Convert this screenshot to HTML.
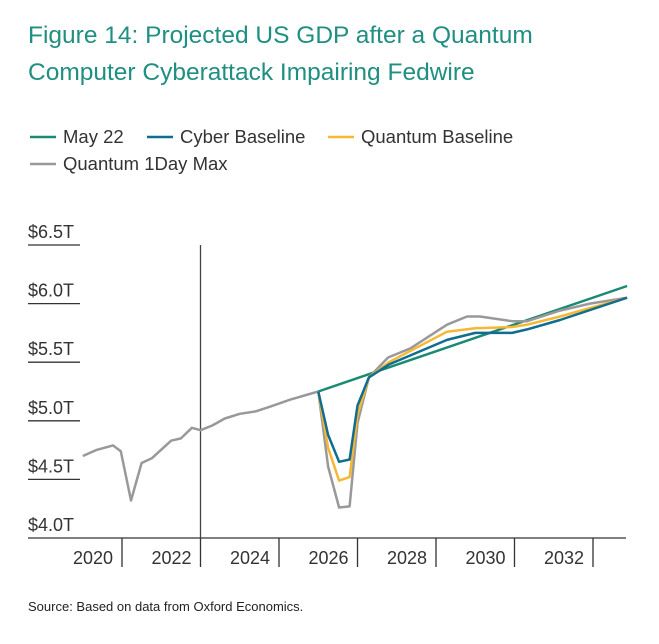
<!DOCTYPE html>
<html><head><meta charset="utf-8">
<style>
html,body{margin:0;padding:0;background:#fff;}
svg{display:block;font-family:"Liberation Sans",Arial,sans-serif;}
</style></head>
<body>
<svg id="chart" width="659" height="644" viewBox="0 0 659 644">
<text x="28" y="43" font-size="24.5" fill="#1f8f82">Figure 14: Projected US GDP after a Quantum</text>
<text x="28" y="80" font-size="24.5" fill="#1f8f82">Computer Cyberattack Impairing Fedwire</text>
<g font-size="18.5" fill="#333">
 <g><line x1="30" y1="137" x2="56" y2="137" stroke="#1a8a74" stroke-width="2.5"/><text x="63" y="143">May 22</text></g>
 <g><line x1="147" y1="137" x2="173" y2="137" stroke="#0f6e8f" stroke-width="2.5"/><text x="180" y="143">Cyber Baseline</text></g>
 <g><line x1="328" y1="137" x2="354" y2="137" stroke="#f7b733" stroke-width="2.5"/><text x="361" y="143">Quantum Baseline</text></g>
 <g><line x1="30" y1="164" x2="56" y2="164" stroke="#999" stroke-width="2.5"/><text x="63" y="170">Quantum 1Day Max</text></g>
</g>
<g id="axes"></g>
<g id="series"></g>
<text x="28" y="611" font-size="13" fill="#222">Source: Based on data from Oxford Economics.</text>
</svg>
<script>
const yTicks = [4.0, 4.5, 5.0, 5.5, 6.0, 6.5];
const yTickLabels = ["$4.0T", "$4.5T", "$5.0T", "$5.5T", "$6.0T", "$6.5T"];
const xTickYears = [2021, 2023, 2025, 2027, 2029, 2031, 2033];
const xLabels = ["2020", "2022", "2024", "2026", "2028", "2030", "2032"];
const histYears = [2020.0,2020.34,2020.77,2020.97,2021.23,2021.5,2021.76,2022.25,2022.5,2022.78,2023.0,2023.3,2023.62,2024.0,2024.4,2024.77,2025.28,2026.0];
const histValues = [4.70,4.75,4.79,4.74,4.32,4.64,4.68,4.83,4.85,4.94,4.92,4.96,5.02,5.06,5.08,5.12,5.18,5.25];
const may22Years = [2026.0, 2033.87];
const may22Values = [5.25, 6.15];
const cyberYears = [2026.0,2026.25,2026.53,2026.8,2027.0,2027.29,2027.8,2029.28,2030.0,2030.94,2031.32,2032.16,2033.87];
const cyberValues = [5.25,4.88,4.65,4.67,5.13,5.37,5.48,5.69,5.75,5.75,5.78,5.86,6.05];
const quantumYears = [2026.0,2026.25,2026.53,2026.8,2027.0,2027.29,2027.8,2029.28,2030.0,2030.94,2031.32,2032.16,2033.87];
const quantumValues = [5.25,4.77,4.49,4.52,5.05,5.37,5.50,5.76,5.79,5.80,5.82,5.89,6.05];
const maxYears = [2026.0,2026.25,2026.53,2026.8,2027.0,2027.29,2027.78,2028.36,2029.28,2029.79,2030.12,2030.94,2031.32,2032.16,2032.92,2033.87];
const maxValues = [5.25,4.61,4.26,4.27,4.98,5.37,5.54,5.62,5.82,5.89,5.89,5.85,5.85,5.94,6.00,6.05];

const NS = "http://www.w3.org/2000/svg";
const xS = yr => 122 + (yr - 2021) * 39.25;
const yS = v => 538 - (v - 4.0) * 117.2;
function mk(tag, attrs, parent){const e=document.createElementNS(NS,tag);for(const k in attrs)e.setAttribute(k,attrs[k]);parent.appendChild(e);return e;}
const axes=document.getElementById('axes'), series=document.getElementById('series');

yTicks.forEach((v,i)=>{
  const y=yS(v);
  if(i>0){const l=mk('line',{x1:28,x2:80,y1:y,y2:y,stroke:'#333','stroke-width':1.3},axes);
  
  }
  const t=mk('text',{x:28,y:y-7,'font-size':18,fill:'#333'},axes);
  t.textContent=yTickLabels[i];
  
  
});
const ax=mk('line',{x1:28,x2:626,y1:538,y2:538,stroke:'#333','stroke-width':1.3},axes);


xTickYears.forEach((yr,i)=>{
  const x=xS(yr);
  const tk=mk('line',{x1:x,x2:x,y1:538,y2:567,stroke:'#333','stroke-width':1.3},axes);
  
  
  const t=mk('text',{x:x-29,y:564,'font-size':18,fill:'#333','text-anchor':'middle'},axes);
  t.textContent=xLabels[i];
  
  
});
const vl=mk('line',{x1:xS(2023),x2:xS(2023),y1:245,y2:538,stroke:'#444','stroke-width':1.3},axes);



function line(ys,vs,color,name){
  const d=ys.map((yr,i)=>(i?'L':'M')+xS(yr).toFixed(1)+' '+yS(vs[i]).toFixed(1)).join(' ');
  const p=mk('path',{d:d,fill:'none',stroke:color,'stroke-width':2.5,'stroke-linejoin':'round'},series);
  
  
}
line(histYears,histValues,'#999','history-line');
line(may22Years,may22Values,'#1a8a74','may22-line');
line(maxYears,maxValues,'#999','quantum-1day-max-line');
line(quantumYears,quantumValues,'#f7b733','quantum-baseline-line');
line(cyberYears,cyberValues,'#0f6e8f','cyber-baseline-line');
</script>
</body></html>
